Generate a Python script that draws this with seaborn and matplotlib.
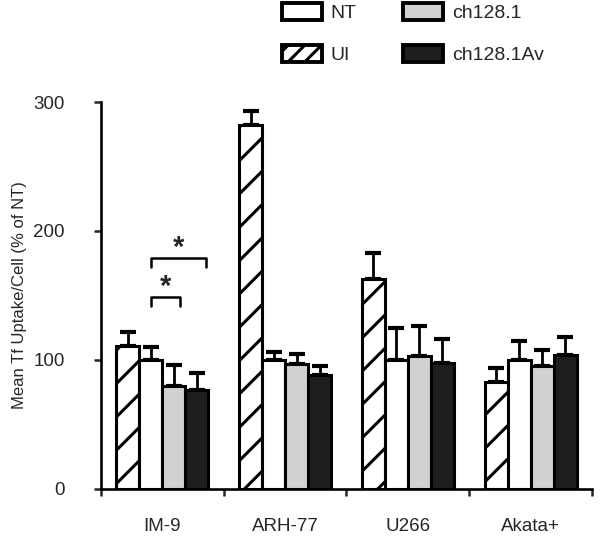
import pandas as pd
import matplotlib
matplotlib.use("Agg")
import matplotlib.pyplot as plt
from matplotlib.patches import Patch
import seaborn as sns

# values
cell_lines = ["IM-9", "ARH-77", "U266", "Akata+"]
conditions = ["UI", "NT", "ch128.1", "ch128.1Av"]

ui_mean = [111, 282, 163, 83]
ui_err = [11, 11, 20, 11]
nt_mean = [100, 100, 100, 100]
nt_err = [10, 6, 25, 15]
ch_mean = [80, 97, 103, 95]
ch_err = [16, 8, 23, 13]
av_mean = [77, 88, 98, 104]
av_err = [13, 7, 18, 14]

means = {"UI": ui_mean, "NT": nt_mean, "ch128.1": ch_mean, "ch128.1Av": av_mean}
errs = {"UI": ui_err, "NT": nt_err, "ch128.1": ch_err, "ch128.1Av": av_err}
colors = {"UI": "white", "NT": "white", "ch128.1": "#d0d1d3", "ch128.1Av": "#1e1e1e"}

rows = []
for cond in conditions:
    for line, v in zip(cell_lines, means[cond]):
        rows.append({"line": line, "condition": cond, "value": v})
df = pd.DataFrame(rows)

sns.set_style("white")
plt.rcParams["font.family"] = ["Liberation Sans", "DejaVu Sans"]
plt.rcParams["hatch.linewidth"] = 2.2

fig = plt.figure(figsize=(6, 5.36), dpi=100)
ax = fig.add_axes([0.1683, 0.0877, 0.8183, 0.722])

sns.barplot(data=df, x="line", y="value", hue="condition", order=cell_lines,
            hue_order=conditions, palette=colors, width=0.75, saturation=1,
            edgecolor="black", linewidth=2.2, errorbar=None, legend=False, ax=ax)

# hatching and one-sided error bars
centers = {}
for container, cond in zip(ax.containers, conditions):
    xs = []
    for bar in container:
        if cond == "UI":
            bar.set_hatch("/")
        xs.append(bar.get_x() + bar.get_width() / 2)
    centers[cond] = xs
    ax.errorbar(xs, means[cond], yerr=[[0] * len(xs), errs[cond]], fmt="none",
                ecolor="black", elinewidth=2.0, capsize=5.5, capthick=3,
                zorder=0.5, clip_on=False)

bar_w = ax.containers[0][0].get_width()

# significance brackets for IM-9
x_nt = centers["NT"][0]
x_ch = centers["ch128.1"][0] + 0.25 * bar_w
x_av = centers["ch128.1Av"][0] + 0.4 * bar_w
for x1, x2, y, ys in [(x_nt, x_ch, 149, 157), (x_nt, x_av, 179, 187)]:
    ax.plot([x1, x1, x2, x2], [y - 7, y, y, y - 7], color="black", lw=1.8,
            clip_on=False)
    ax.text((x1 + x2) / 2, ys, "*", ha="center", va="center", fontsize=21,
            fontweight="bold")

ax.set_xlim(-0.5, 3.5)
ax.set_ylim(0, 300)
ax.set_yticks([0, 100, 200, 300])
ax.set_xticks([-0.5, 0.5, 1.5, 2.5, 3.5])
ax.set_xticklabels([])
ax.set_xticks(range(len(cell_lines)), minor=True)
ax.set_xticklabels(cell_lines, minor=True)
ax.tick_params(axis="x", which="major", direction="out", length=5, width=1.8,
               bottom=True)
ax.tick_params(axis="x", which="minor", length=0, pad=21, labelsize=13.5)
ax.tick_params(axis="y", direction="out", length=5, width=1.8, left=True,
               pad=21, labelsize=13.5)
ax.set_xlabel("")
ax.set_ylabel("Mean Tf Uptake/Cell (% of NT)", fontsize=12)
ax.yaxis.set_label_coords(-0.15, 0.5)

sns.despine(ax=ax)
for side in ["left", "bottom"]:
    ax.spines[side].set_linewidth(1.9)
    ax.spines[side].set_color("black")

# legend above plot
handles = [
    Patch(facecolor="white", edgecolor="black", linewidth=2.8, label="NT"),
    Patch(facecolor="white", edgecolor="black", linewidth=2.8, hatch="//", label="UI"),
    Patch(facecolor=colors["ch128.1"], edgecolor="black", linewidth=2.8, label="ch128.1"),
    Patch(facecolor=colors["ch128.1Av"], edgecolor="black", linewidth=2.8, label="ch128.1Av"),
]
fig.legend(handles=handles, ncol=2, loc="upper left",
           bbox_to_anchor=(282 / 600, 1 - 3 / 536), frameon=False,
           fontsize=14, handlelength=2.05, handleheight=1.0,
           handletextpad=0.45, columnspacing=2.4, labelspacing=1.15,
           borderpad=0, borderaxespad=0)

fig.savefig("out.png", dpi=100)
